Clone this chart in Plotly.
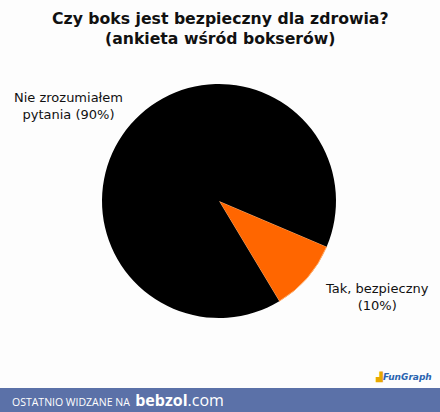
import plotly.graph_objects as go

labels = ["Tak, bezpieczny", "Nie zrozumiałem pytania"]
values = [10, 90]
colors = ["#ff6600", "#000000"]
title_lines = ["Czy boks jest bezpieczny dla zdrowia?", "(ankieta wśród bokserów)"]

fig = go.Figure()
fig.add_trace(go.Pie(
    labels=labels, values=values, sort=False, direction="clockwise", rotation=113,
    marker=dict(colors=colors, line=dict(color=["#ffb070", "rgba(0,0,0,0)"], width=1)),
    textinfo="none", hoverinfo="label+percent", showlegend=False,
    domain=dict(x=[102/440, 336/440], y=[1-318/412, 1-84/412]),
))

total = sum(values)
lab_text = {
    0: f"Tak, bezpieczny<br>({values[0]*100//total}%)",
    1: f"Nie zrozumiałem<br>pytania ({values[1]*100//total}%)",
}
annos = [
    dict(x=377/440, y=1-297/412, text=lab_text[0]),
    dict(x=68/440, y=1-106/412, text=lab_text[1]),
]
for a in annos:
    a.update(xref="paper", yref="paper", showarrow=False, xanchor="center", yanchor="middle",
             font=dict(family="DejaVu Sans", size=13, color="#111111"))

annos.append(dict(x=0.5, y=1-29/412, xref="paper", yref="paper", showarrow=False,
                  text="<b>" + title_lines[0] + "</b><br><b>" + title_lines[1] + "</b>",
                  font=dict(family="DejaVu Sans", size=15.7, color="#111111"),
                  xanchor="center", yanchor="middle"))
annos.append(dict(x=10/440, y=1-400/412, xref="paper", yref="paper", showarrow=False,
                  text="OSTATNIO WIDZANE NA  <span style='font-size:16px'><b>bebzol</b>.com</span>",
                  font=dict(family="Open Sans", size=10.5, color="white"),
                  xanchor="left", yanchor="middle"))
annos.append(dict(x=434/440, y=1-377/412, xref="paper", yref="paper", showarrow=False,
                  text="<span style='color:#e8a800'>▟</span><b><i>FunGraph</i></b>",
                  font=dict(family="DejaVu Sans", size=9, color="#2a64b0"),
                  xanchor="right", yanchor="middle"))

fig.update_layout(
    width=440, height=412, margin=dict(l=0, r=0, t=0, b=0),
    paper_bgcolor="#fdfdfd", plot_bgcolor="#fdfdfd",
    annotations=annos,
    shapes=[dict(type="rect", xref="paper", yref="paper", x0=0, x1=1, y0=0, y1=1-388/412,
                 fillcolor="#5b71a8", line=dict(width=0), layer="below")],
)
fig.write_html("out.html", config={"displayModeBar": False},
               post_script="document.body.style.margin='0';document.body.style.overflow='hidden';")
